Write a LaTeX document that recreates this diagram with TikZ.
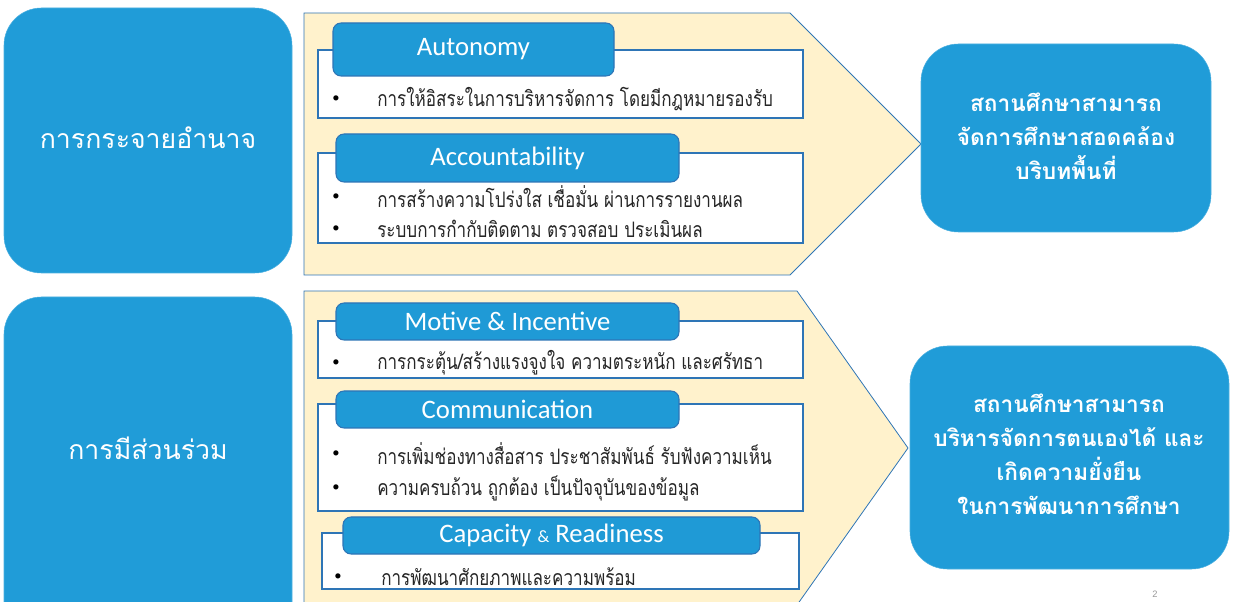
\documentclass[tikz,border=0pt]{standalone}
\usepackage{fontspec}
\usetikzlibrary{fit}
\setmainfont{Carlito}
\newfontfamily\thai[Script=Thai]{Loma}
\newfontfamily\thain[Script=Thai,FakeStretch=0.8]{Loma}
\newfontfamily\numfont{Liberation Sans}
\definecolor{mblue}{HTML}{209CD8}
\definecolor{hblue}{HTML}{1F9AD6}
\definecolor{eblue}{HTML}{2E75B6}
\definecolor{cream}{HTML}{FFF2CC}
\tikzset{
  bigbox/.style={fill=mblue, draw=mblue!80!white, rounded corners=28pt, inner sep=0pt},
  chev/.style={fill=cream, draw=eblue, line width=0.6pt},
  contentbox/.style={fill=white, draw=eblue, line width=0.8pt, inner sep=0pt},
  header/.style={fill=hblue, draw=eblue, line width=0.8pt, rounded corners=6pt, inner sep=0pt},
  htext/.style={text=white, inner sep=0pt, font=\fontsize{20}{24}\selectfont},
  bul/.style={font=\fontsize{11}{13}\selectfont, inner sep=0pt},
  btext/.style={anchor=west, inner sep=0pt, font=\thain\fontsize{16}{18}\selectfont, text=black!85},
  lefttitle/.style={text=white, font=\thai\fontsize{20}{24}\selectfont},
  righttitle/.style={text=white, align=center, font=\thai\bfseries\fontsize{17}{25.5}\selectfont},
}
\begin{document}
\begin{tikzpicture}[x=0.75pt,y=-0.75pt]
\useasboundingbox (0,0) rectangle (1233,602);
% left boxes
\node[bigbox, fit={(4,8) (292,273)}] (lb1) {};
\node[lefttitle] (lt1) at (148,138) {การกระจายอำนาจ};
\node[bigbox, fit={(4,297) (292,650)}] (lb2) {};
\node[lefttitle] (lt2) at (148,448) {การมีส่วนร่วม};
% chevrons
\draw[chev] (304,13) -- (790,13) -- (921,144) -- (790,275) -- (304,275) -- cycle;
\draw[chev] (304,291) -- (797,291) -- (908,448) -- (797,605) -- (304,605) -- cycle;
% right boxes
\node[bigbox, fit={(921,44) (1211,232)}] (rb1) {};
\node[righttitle] (rt1) at (1066,136) {สถานศึกษาสามารถ\\จัดการศึกษาสอดคล้อง\\บริบทพื้นที่};
\node[bigbox, fit={(910,346) (1229,569)}] (rb2) {};
\node[righttitle] (rt2) at (1069,454) {สถานศึกษาสามารถ\\บริหารจัดการตนเองได้ และ\\เกิดความยั่งยืน\\ในการพัฒนาการศึกษา};
% Autonomy
\node[contentbox, fit={(318,50) (803,118)}] (c1) {};
\node[header, fit={(333,23) (614,76)}] (h1) {};
\node[htext] (ht1) at (h1.center) {Autonomy};
\node[bul] (b11) at (336,99) {\textbullet};
\node[btext] (t11) at (377,99) {การให้อิสระในการบริหารจัดการ โดยมีกฎหมายรองรับ};
% Accountability
\node[contentbox, fit={(318,153) (803,243)}] (c2) {};
\node[header, fit={(336,134) (679,182)}] (h2) {};
\node[htext] (ht2) at (h2.center) {Accountability};
\node[bul] (b21) at (336,197) {\textbullet};
\node[btext] (t21) at (377,197) {การสร้างความโปร่งใส เชื่อมั่น ผ่านการรายงานผล};
\node[bul] (b22) at (336,229) {\textbullet};
\node[btext] (t22) at (377,229) {ระบบการกำกับติดตาม ตรวจสอบ ประเมินผล};
% Motive
\node[contentbox, fit={(318,321) (803,378)}] (c3) {};
\node[header, fit={(336,303) (679,340)}] (h3) {};
\node[htext] (ht3) at (h3.center) {Motive \& Incentive};
\node[bul] (b31) at (336,363) {\textbullet};
\node[btext] (t31) at (377,363) {การกระตุ้น/สร้างแรงจูงใจ ความตระหนัก และศรัทธา};
% Communication
\node[contentbox, fit={(318,404) (803,511)}] (c4) {};
\node[header, fit={(336,391) (679,428)}] (h4) {};
\node[htext] (ht4) at (h4.center) {Communication};
\node[bul] (b41) at (336,454) {\textbullet};
\node[btext] (t41) at (377,454) {การเพิ่มช่องทางสื่อสาร ประชาสัมพันธ์ รับฟังความเห็น};
\node[bul] (b42) at (336,488) {\textbullet};
\node[btext] (t42) at (377,488) {ความครบถ้วน ถูกต้อง เป็นปัจจุบันของข้อมูล};
% Capacity
\node[contentbox, fit={(322,533) (799,589)}] (c5) {};
\node[header, fit={(343,517) (760,554)}] (h5) {};
\node[htext] (ht5) at (h5.center) {Capacity {\fontsize{13}{15}\selectfont\&} Readiness};
\node[bul] (b51) at (338,577) {\textbullet};
\node[btext] (t51) at (381,577) {การพัฒนาศักยภาพและความพร้อม};
% page number
\node[text=black!40, font=\numfont\fontsize{7}{8}\selectfont] (pg) at (1155,594) {2};
\end{tikzpicture}
\end{document}
